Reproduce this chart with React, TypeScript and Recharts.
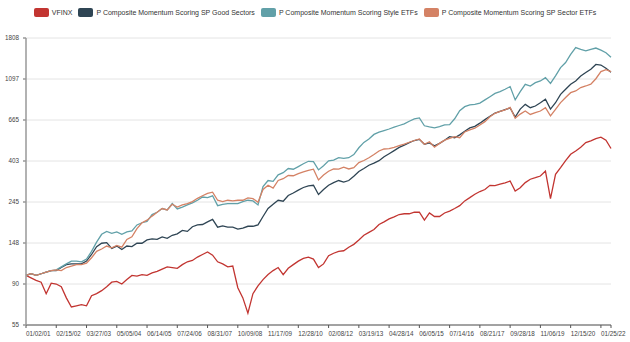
import { CartesianGrid, Legend, Line, LineChart, XAxis, YAxis } from 'recharts'

const dateLabels = [
  '01/02/01', '02/15/02', '03/27/03', '05/05/04', '06/14/05', '07/24/06', '08/31/07',
  '10/09/08', '11/17/09', '12/28/10', '02/08/12', '03/19/13', '04/28/14', '06/05/15',
  '07/14/16', '08/21/17', '09/28/18', '11/06/19', '12/15/20', '01/25/22',
]
const POINTS_PER_LABEL = 6

const vfinx = [
  100, 97, 94, 92, 80, 91, 90, 87, 76, 68,
  69, 70, 69, 78, 80, 83, 87, 92, 93, 90,
  95, 100, 99, 101, 100, 103, 105, 108, 111, 110,
  109, 114, 118, 120, 125, 129, 133, 128, 118, 115,
  111, 112, 86, 76, 63, 80, 88, 95, 101, 106,
  110, 101, 109, 114, 119, 123, 125, 122, 110, 115,
  127, 131, 134, 135, 141, 146, 154, 163, 169, 175,
  186, 192, 199, 204, 210, 212, 212, 216, 216, 196,
  214, 205, 205, 214, 219, 226, 234, 248, 258, 269,
  278, 285, 300, 299, 304, 309, 316, 280, 291, 310,
  323, 329, 336, 357, 255, 343, 372, 405, 438, 456,
  477, 505, 516, 530, 540, 520, 470,
]

const goodSectors = [
  100, 102, 100, 102, 104, 106, 106, 110, 114, 115,
  115, 115, 119, 129, 142, 148, 149, 139, 143, 137,
  143, 142, 148, 148, 154, 156, 155, 160, 157, 163,
  166, 173, 171, 181, 185, 186, 192, 198, 180, 183,
  180, 180, 176, 178, 182, 182, 185, 205, 226, 238,
  250, 247, 265, 273, 283, 292, 298, 300, 268, 285,
  300, 310, 318, 312, 318, 335, 355, 368, 383, 393,
  405, 425, 441, 458, 476, 490, 505, 518, 525, 495,
  503, 485, 500, 520, 543, 536, 555, 580, 604, 616,
  640, 668, 696, 724, 739, 755, 770, 690, 760, 805,
  773, 789, 821, 856, 760, 821, 910, 967, 1028, 1071,
  1138, 1186, 1235, 1310, 1300, 1250, 1190,
]

const styleEtfs = [
  100, 102, 100, 102, 104, 106, 107, 111, 115, 119,
  119, 118, 122, 134, 150, 165, 171, 167, 170, 165,
  170, 172, 185, 190, 193, 210, 216, 226, 222, 240,
  225, 230, 236, 242, 250, 260, 258, 264, 234, 238,
  240, 240, 240, 246, 250, 248, 236, 295, 318, 315,
  341, 350, 368, 365, 377, 390, 402, 400, 362, 381,
  404, 408, 420, 417, 420, 436, 474, 506, 527, 558,
  573, 585, 596, 609, 622, 635, 655, 675, 682, 620,
  612, 605, 614, 626, 628, 675, 745, 783, 800, 805,
  818, 850, 884, 920, 940, 968, 1000, 850, 940, 1028,
  1007, 1049, 1071, 1115, 1040, 1140, 1260, 1340, 1480, 1610,
  1575, 1545, 1575, 1600, 1560, 1510, 1430,
]

const sectorEtfs = [
  100, 102, 100, 102, 104, 106, 107, 106, 110, 112,
  114, 114, 116, 124, 134, 138, 143, 140, 144, 141,
  155, 160, 177, 190, 196, 206, 216, 226, 222, 238,
  230, 236, 240, 246, 256, 264, 272, 276, 250, 246,
  250, 248, 250, 250, 257, 255, 244, 285, 300, 290,
  318, 325, 338, 337, 346, 353, 360, 365, 320, 340,
  356, 366, 365, 374, 366, 372, 396, 406, 420, 437,
  456, 467, 469, 476, 486, 496, 507, 518, 528, 495,
  510, 478, 500, 520, 532, 543, 536, 575, 590, 602,
  626, 652, 692, 722, 738, 752, 775, 680, 715, 742,
  712, 727, 742, 773, 700, 758, 822, 875, 928, 948,
  988, 1007, 1030, 1100, 1200, 1230, 1200,
]

// y ticks sit on e^4, e^4.5 ... e^7.5 (55, 90, 148 ... 1808)
const yTicks = [4, 4.5, 5, 5.5, 6, 6.5, 7, 7.5].map((p) => Math.exp(p))

const series = [
  { key: 'vfinx', name: 'VFINX', color: '#c23531', values: vfinx },
  { key: 'good', name: 'P Composite Momentum Scoring SP Good Sectors', color: '#2f4554', values: goodSectors },
  { key: 'style', name: 'P Composite Momentum Scoring Style ETFs', color: '#61a0a8', values: styleEtfs },
  { key: 'sector', name: 'P Composite Momentum Scoring SP Sector ETFs', color: '#d48265', values: sectorEtfs },
]

const chartData = vfinx.map((_, i) => {
  const row: Record<string, number> = { i }
  series.forEach((s) => {
    row[s.key] = s.values[i]
  })
  return row
})

const lastIndex = vfinx.length - 1
const xTicks = [...dateLabels.map((_, k) => k * POINTS_PER_LABEL), lastIndex]

const font = '"Liberation Sans", Arial, Helvetica, sans-serif'

const DateTick = ({ x, y, payload }: any) => {
  const label = dateLabels[payload.value / POINTS_PER_LABEL] ?? ''
  return (
    <text x={x} y={y} dy="0.71em" fontSize={6.3} fill="#444" textAnchor="start" fontFamily={font}>
      {label}
    </text>
  )
}

const LegendRow = () => (
  <div
    style={{
      display: 'flex',
      justifyContent: 'center',
      alignItems: 'center',
      gap: 6,
      fontFamily: font,
      fontSize: 7,
      color: '#333',
      lineHeight: '9px',
    }}
  >
    {series.map((s) => (
      <div key={s.key} style={{ display: 'flex', alignItems: 'center', gap: 3 }}>
        <span style={{ width: 15, height: 8.5, background: s.color, borderRadius: 2, display: 'inline-block' }} />
        <span>{s.name}</span>
      </div>
    ))}
  </div>
)

export default function App() {
  return (
    <div style={{ position: 'absolute', left: 0, top: 0, background: '#fff' }}>
      <LineChart
        width={630}
        height={342}
        data={chartData}
        margin={{ top: 38, right: 19, bottom: 0, left: 0 }}
        style={{ fontFamily: font }}
      >
        <CartesianGrid vertical={false} stroke="#e4e4e4" />
        <XAxis
          dataKey="i"
          type="number"
          domain={[0, lastIndex]}
          ticks={xTicks}
          interval={0}
          height={17}
          tickSize={3}
          tickMargin={4}
          tick={<DateTick />}
          stroke="#555"
        />
        <YAxis
          type="number"
          scale="log"
          domain={[yTicks[0], yTicks[yTicks.length - 1]]}
          ticks={yTicks}
          allowDataOverflow
          interval={0}
          width={26}
          tickSize={3}
          tickMargin={4}
          tickFormatter={(v: number) => String(Math.round(v))}
          tick={{ fontSize: 6.3, fill: '#444' }}
          stroke="#999"
          strokeWidth={1.5}
        />
        <Legend
          verticalAlign="middle"
          align="center"
          content={<LegendRow />}
          wrapperStyle={{ top: 8, left: 0, width: 630 }}
        />
        {series.map((s) => (
          <Line
            key={s.key}
            type="linear"
            dataKey={s.key}
            name={s.name}
            stroke={s.color}
            strokeWidth={1.3}
            dot={false}
            isAnimationActive={false}
          />
        ))}
      </LineChart>
    </div>
  )
}
